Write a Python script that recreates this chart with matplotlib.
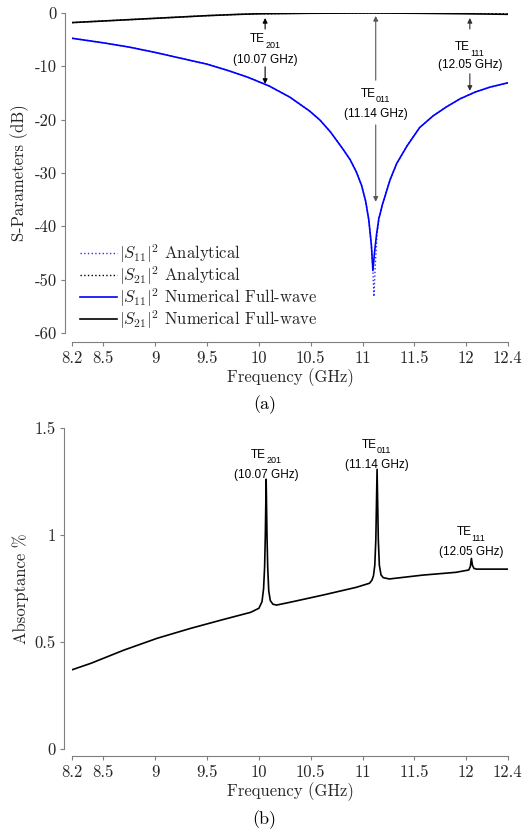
import matplotlib
matplotlib.use("Agg")
import matplotlib.pyplot as plt

# ---- data ---------------------------------------------------------------
freq_s11 = [8.2, 8.5, 8.75, 9.0, 9.25, 9.5, 9.72, 9.9, 10.1, 10.3, 10.49,
            10.59, 10.69, 10.81, 10.88, 10.94, 10.99, 11.03, 11.06, 11.085,
            11.1, 11.115, 11.135, 11.15, 11.157, 11.168, 11.19, 11.216,
            11.265, 11.33, 11.43, 11.55, 11.68, 11.81, 11.94, 12.09, 12.23,
            12.4]
s11_num = [-4.75, -5.6, -6.4, -7.4, -8.5, -9.6, -10.9, -12.1, -13.7, -15.8,
           -18.4, -20.1, -22.3, -25.5, -27.5, -29.8, -32.3, -35.3, -38.8,
           -43.5, -48.3, -45.0, -41.5, -39.5, -38.5, -37.8, -36.0, -34.4,
           -31.3, -28.2, -24.9, -21.5, -19.3, -17.6, -16.1, -14.8, -13.9,
           -13.1]

freq_s11_an = [8.2, 8.5, 8.75, 9.0, 9.25, 9.5, 9.72, 9.9, 10.1, 10.3, 10.49,
               10.59, 10.69, 10.81, 10.88, 10.94, 10.99, 11.03, 11.06, 11.085,
               11.098, 11.11, 11.122, 11.14, 11.16, 11.19, 11.216, 11.265,
               11.33, 11.43, 11.55, 11.68, 11.81, 11.94, 12.09, 12.23, 12.4]
s11_an = [-4.75, -5.6, -6.4, -7.4, -8.5, -9.6, -10.9, -12.1, -13.7, -15.8,
          -18.4, -20.1, -22.3, -25.5, -27.5, -29.8, -32.3, -35.3, -38.8,
          -43.5, -47.5, -53.2, -47.5, -41.5, -38.3, -36.0, -34.4, -31.3,
          -28.2, -24.9, -21.5, -19.3, -17.6, -16.1, -14.8, -13.9, -13.1]

freq_s21 = [8.2, 8.5, 8.75, 9.0, 9.25, 9.5, 9.82, 10.0, 10.5, 11.1, 11.5,
            12.0, 12.4]
s21_num = [-1.8, -1.5, -1.25, -1.0, -0.75, -0.5, -0.25, -0.15, -0.05, 0.0,
           -0.05, -0.15, -0.25]
s21_an = [-1.8, -1.5, -1.25, -1.0, -0.75, -0.5, -0.25, -0.15, -0.05, 0.0,
          -0.02, -0.05, -0.08]

freq_abs = [8.2, 8.38, 8.7, 9.02, 9.34, 9.66, 9.92, 10.0, 10.03, 10.045,
            10.055, 10.062, 10.07, 10.078, 10.085, 10.095, 10.11, 10.135,
            10.17, 10.3, 10.62, 10.94, 11.067, 11.09, 11.105, 11.118, 11.128,
            11.14, 11.152, 11.162, 11.178, 11.2, 11.258, 11.58, 11.9, 12.025,
            12.04, 12.05, 12.06, 12.075, 12.1, 12.4]
absorptance = [0.372, 0.402, 0.464, 0.519, 0.565, 0.607, 0.64, 0.659, 0.69,
               0.75, 0.85, 1.0, 1.262, 1.0, 0.85, 0.74, 0.695, 0.678, 0.674,
               0.687, 0.721, 0.757, 0.776, 0.79, 0.81, 0.86, 0.98, 1.308,
               0.98, 0.86, 0.815, 0.802, 0.796, 0.814, 0.827, 0.838, 0.855,
               0.892, 0.86, 0.845, 0.842, 0.842]

xticks = [8.2, 8.5, 9, 9.5, 10, 10.5, 11, 11.5, 12, 12.4]
xticklabels = ["8.2", "8.5", "9", "9.5", "10", "10.5", "11", "11.5", "12", "12.4"]
yticks_top = [0, -10, -20, -30, -40, -50, -60]
yticklabels_top = ["0", "-10", "-20", "-30", "-40", "-50", "-60"]
yticks_bot = [0, 0.5, 1, 1.5]
yticklabels_bot = ["0", "0.5", "1", "1.5"]

mode_subs = ["201", "011", "111"]
mode_freqs = ["(10.07 GHz)", "(11.14 GHz)", "(12.05 GHz)"]

# ---- style --------------------------------------------------------------
plt.rcParams["font.family"] = "serif"
plt.rcParams["font.serif"] = ["cmr10", "DejaVu Serif"]
plt.rcParams["mathtext.fontset"] = "cm"
plt.rcParams["axes.formatter.use_mathtext"] = True

SPINE = "#7f7f7f"
TXT = "#262626"
SANS = "Liberation Sans"


def style_axes(ax, left_out, bottom_out, ylo, yhi):
    for s in ("top", "right"):
        ax.spines[s].set_visible(False)
    ax.spines["left"].set_position(("outward", left_out))
    ax.spines["bottom"].set_position(("outward", bottom_out))
    ax.spines["left"].set_bounds(ylo, yhi)
    ax.spines["bottom"].set_bounds(8.2, 12.4)
    for s in ("left", "bottom"):
        ax.spines[s].set_color(SPINE)
        ax.spines[s].set_linewidth(0.8)
    ax.tick_params(direction="out", length=3, width=0.8, color=SPINE,
                   labelcolor=TXT, labelsize=12, pad=3)
    ax.set_xlim(8.2, 12.4)
    ax.set_xticks(xticks, xticklabels)


def mode_label(ax, x, y_te, y_freq, sub, freq, drop=4.0):
    # "TE" with a lowered subscript, centred on x, frequency below
    ax.text(x, y_te, "TE", ha="right", va="baseline", fontsize=8.5,
            family=SANS, color="black")
    ax.annotate(sub, xy=(x, y_te), xytext=(0, -drop),
                textcoords="offset points", ha="left", va="baseline",
                fontsize=6.5, family=SANS, color="black")
    ax.text(x, y_freq, freq, ha="center", va="baseline", fontsize=8.5,
            family=SANS, color="black")


def arrow(ax, x, y0, y1, color="black"):
    ax.annotate("", xy=(x, y1), xytext=(x, y0),
                arrowprops=dict(arrowstyle="-|>", color=color, lw=0.8,
                                mutation_scale=7, shrinkA=0, shrinkB=0))


fig = plt.figure(figsize=(5.29, 8.32), dpi=100)

# ---- (a) S-parameters ---------------------------------------------------
ax1 = fig.add_axes([0.1367, 0.5998, 0.823, 0.3846])
ax1.plot(freq_s11_an, s11_an, color="#3030ff", ls=":", lw=1.0,
         label=r"$|S_{11}|^2$ Analytical")
ax1.plot(freq_s21, s21_an, color="black", ls=":", lw=1.0,
         label=r"$|S_{21}|^2$ Analytical")
ax1.plot(freq_s11, s11_num, color="#0000ff", lw=1.2,
         label=r"$|S_{11}|^2$ Numerical Full-wave")
ax1.plot(freq_s21, s21_num, color="black", lw=1.2,
         label=r"$|S_{21}|^2$ Numerical Full-wave")
style_axes(ax1, 5, 6.5, -60, 0)
ax1.set_ylim(-60, 0)
ax1.set_yticks(yticks_top, yticklabels_top)
ax1.set_ylabel("S-Parameters (dB)", fontsize=12, color=TXT, labelpad=4)
ax1.set_xlabel("Frequency (GHz)", fontsize=12, color=TXT, labelpad=2)
leg = ax1.legend(loc="lower left", bbox_to_anchor=(-0.005, -0.025),
                 frameon=False, fontsize=12, handlelength=2.2,
                 handletextpad=0.15, labelspacing=-0.05, borderaxespad=0.2)
for t in leg.get_texts():
    t.set_color(TXT)

# mode annotations
mode_label(ax1, 10.06, -5.38, -9.38, mode_subs[0], mode_freqs[0], drop=4.6)
arrow(ax1, 10.06, -3.0, -0.94)
arrow(ax1, 10.06, -10.1, -13.3)

mode_label(ax1, 11.127, -15.69, -19.5, mode_subs[1], mode_freqs[1])
arrow(ax1, 11.127, -12.6, -0.56, color="#555555")
arrow(ax1, 11.127, -21.0, -35.4, color="#555555")

mode_label(ax1, 12.035, -6.94, -10.31, mode_subs[2], mode_freqs[2])
arrow(ax1, 12.035, -3.0, -0.94, color="#333333")
arrow(ax1, 12.035, -11.4, -14.6, color="#333333")

fig.text(0.5, 1 - 405 / 832, "(a)", ha="center", va="center", fontsize=13)

# ---- (b) Absorptance ----------------------------------------------------
ax2 = fig.add_axes([0.1367, 0.0994, 0.823, 0.3858])
ax2.plot(freq_abs, absorptance, color="black", lw=1.2)
style_axes(ax2, 5.8, 5, 0, 1.5)
ax2.set_ylim(0, 1.5)
ax2.set_yticks(yticks_bot, yticklabels_bot)
ax2.set_ylabel("Absorptance %", fontsize=12, color=TXT, labelpad=4)
ax2.set_xlabel("Frequency (GHz)", fontsize=12, color=TXT, labelpad=2)

mode_label(ax2, 10.07, 1.3626, 1.2696, mode_subs[0], mode_freqs[0])
mode_label(ax2, 11.14, 1.4093, 1.3144, mode_subs[1], mode_freqs[1])
mode_label(ax2, 12.05, 1.0014, 0.9079, mode_subs[2], mode_freqs[2])

fig.text(0.5, 1 - 820 / 832, "(b)", ha="center", va="center", fontsize=13)

fig.savefig("out.png", dpi=100)
